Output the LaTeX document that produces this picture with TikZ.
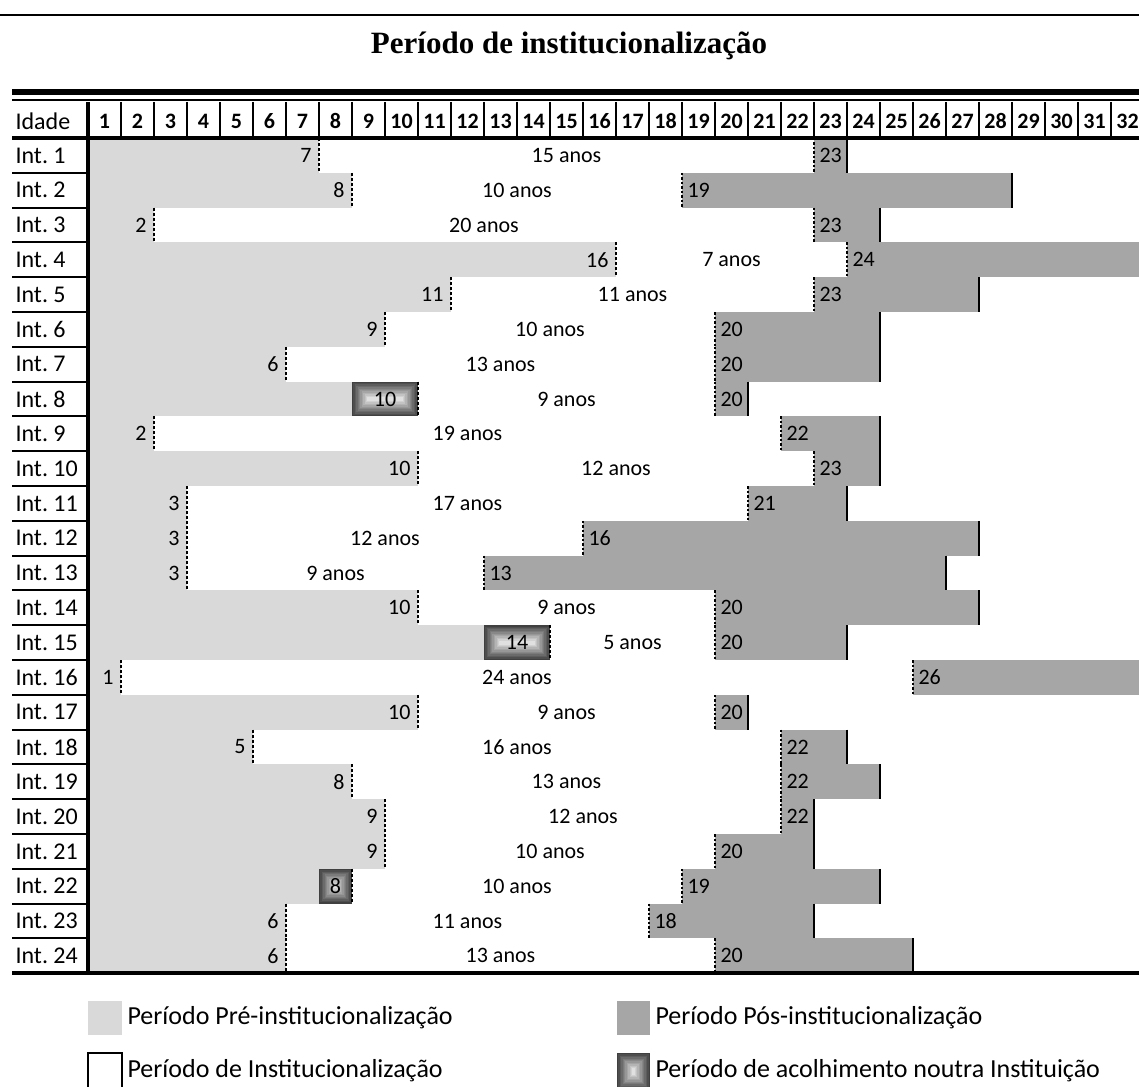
\documentclass[tikz,border=0pt]{standalone}
\usepackage{fontspec}
\setmainfont{Carlito}
\newfontfamily\titlefont{Liberation Serif}
\definecolor{prefill}{HTML}{D9D9D9}
\definecolor{postfill}{HTML}{A6A6A6}
% box with a stepped shading from dark edge to light centre
\newcommand\acolhbox[4]{%
  \foreach \k in {0,...,11} {
    \pgfmathsetmacro\sh{75-5.7*\k}
    \fill[black!\sh] ({#1+1.4*\k},{#2+1.4*\k}) rectangle ({#3-1.4*\k},{#4-1.4*\k});
  }}

\begin{document}
\begin{tikzpicture}[x=1pt,y=-1pt,
  font=\fontsize{22}{25}\selectfont,
  prebar/.style={fill=prefill},
  postbar/.style={fill=postfill},
  predash/.style={line width=2.5pt,dash pattern=on 3pt off 2pt},
  postdash/.style={line width=1.5pt,dash pattern=on 2.5pt off 2pt},
  endline/.style={line width=2pt},
  rule/.style={line width=2pt},
  heavyrule/.style={line width=4pt},
  legendtext/.style={anchor=west,font=\fontsize{26}{30}\selectfont}]
\useasboundingbox (0,0) rectangle (1139,1086);
\clip (0,0) rectangle (1139,1086);

% title
\draw[rule] (0,15) -- (1139,15);
\node (title) at (569,46) {\titlefont\bfseries\fontsize{31}{35}\selectfont Período de institucionalização};
\draw[line width=6pt] (12,92) -- (1139,92);
\draw[rule] (12,100) -- (1139,100);

% header
\node[anchor=west,font=\fontsize{24}{28}\selectfont] (idade) at (12,121) {Idade};
\foreach \c in {1,...,32} {
  \node[font=\fontsize{22}{25}\selectfont\bfseries] (h\c) at ({88+33*\c-16.5},121) {\c};
  \draw[line width=1.2pt] ({88+33*\c},102) -- ({88+33*\c},138);
}

% rows: row / pre end / institution start / years / post start / post end
\foreach \r/\g/\d/\yrs/\s/\e in {1/7/7/15/23/23, 2/8/8/10/19/28, 3/2/2/20/23/24,
    4/16/16/7/24/32, 5/11/11/11/23/27, 6/9/9/10/20/24, 7/6/6/13/20/24,
    8/8/10/9/20/20, 9/2/2/19/22/24, 10/10/10/12/23/24, 11/3/3/17/21/23,
    12/3/3/12/16/27, 13/3/3/9/13/26, 14/10/10/9/20/27, 15/12/14/5/20/23,
    16/1/1/24/26/32, 17/10/10/9/20/20, 18/5/5/16/22/23, 19/8/8/13/22/24,
    20/9/9/12/22/22, 21/9/9/10/20/22, 22/7/8/10/19/24, 23/6/6/11/18/22,
    24/6/6/13/20/25} {
  \pgfmathsetmacro\yt{138+34.8*(\r-1)}
  \pgfmathsetmacro\yb{138+34.8*\r}
  \pgfmathsetmacro\ym{138+34.8*(\r-0.5)}
  \fill[prebar] (88,\yt) rectangle ({88+33*\g},\yb);
  \fill[postbar] ({88+33*(\s-1)},\yt) rectangle ({88+33*\e},\yb);
  \ifnum\g<\d
    \acolhbox{88+33*\g}{\yt}{88+33*\d}{\yb}
    \node (n\r) at ({88+16.5*(\g+\d)},\ym) {\d};
  \else
    \node[anchor=east] (n\r) at ({88+33*\d-4},\ym) {\d};
  \fi
  \draw[predash] ({88+33*\d},\yt) -- ({88+33*\d},\yb);
  \draw[postdash] ({88+33*(\s-1)},\yt) -- ({88+33*(\s-1)},\yb);
  \draw[endline] ({88+33*\e},\yt) -- ({88+33*\e},\yb);
  \node (a\r) at ({88+16.5*(\d+\s-1)},\ym) {\yrs~anos};
  \node[anchor=west] (p\r) at ({88+33*(\s-1)+2},\ym) {\s};
  \node[anchor=west,font=\fontsize{24}{28}\selectfont] (int\r) at (12,\ym) {Int.~\r};
  \draw[rule] (12,\yb) -- (86,\yb);
}

% frame
\draw[heavyrule] (12,138) -- (1139,138);
\draw[heavyrule] (12,973) -- (1139,973);
\draw[heavyrule] (88,102) -- (88,973);

% legend
\fill[prebar] (88,1001) rectangle (122,1035);
\node[legendtext] (lpre) at (124,1018) {Período Pré-institucionalização};
\fill[postbar] (617,1001) rectangle (650,1035);
\node[legendtext] (lpost) at (652,1018) {Período Pós-institucionalização};
\draw[rule] (88,1092) -- (88,1053) -- (122,1053) -- (122,1092);
\node[legendtext] (linst) at (124,1071) {Período de Institucionalização};
\acolhbox{617}{1053}{650}{1090}
\node[legendtext] (lacolh) at (652,1071) {Período de acolhimento noutra Instituição};
\end{tikzpicture}
\end{document}
